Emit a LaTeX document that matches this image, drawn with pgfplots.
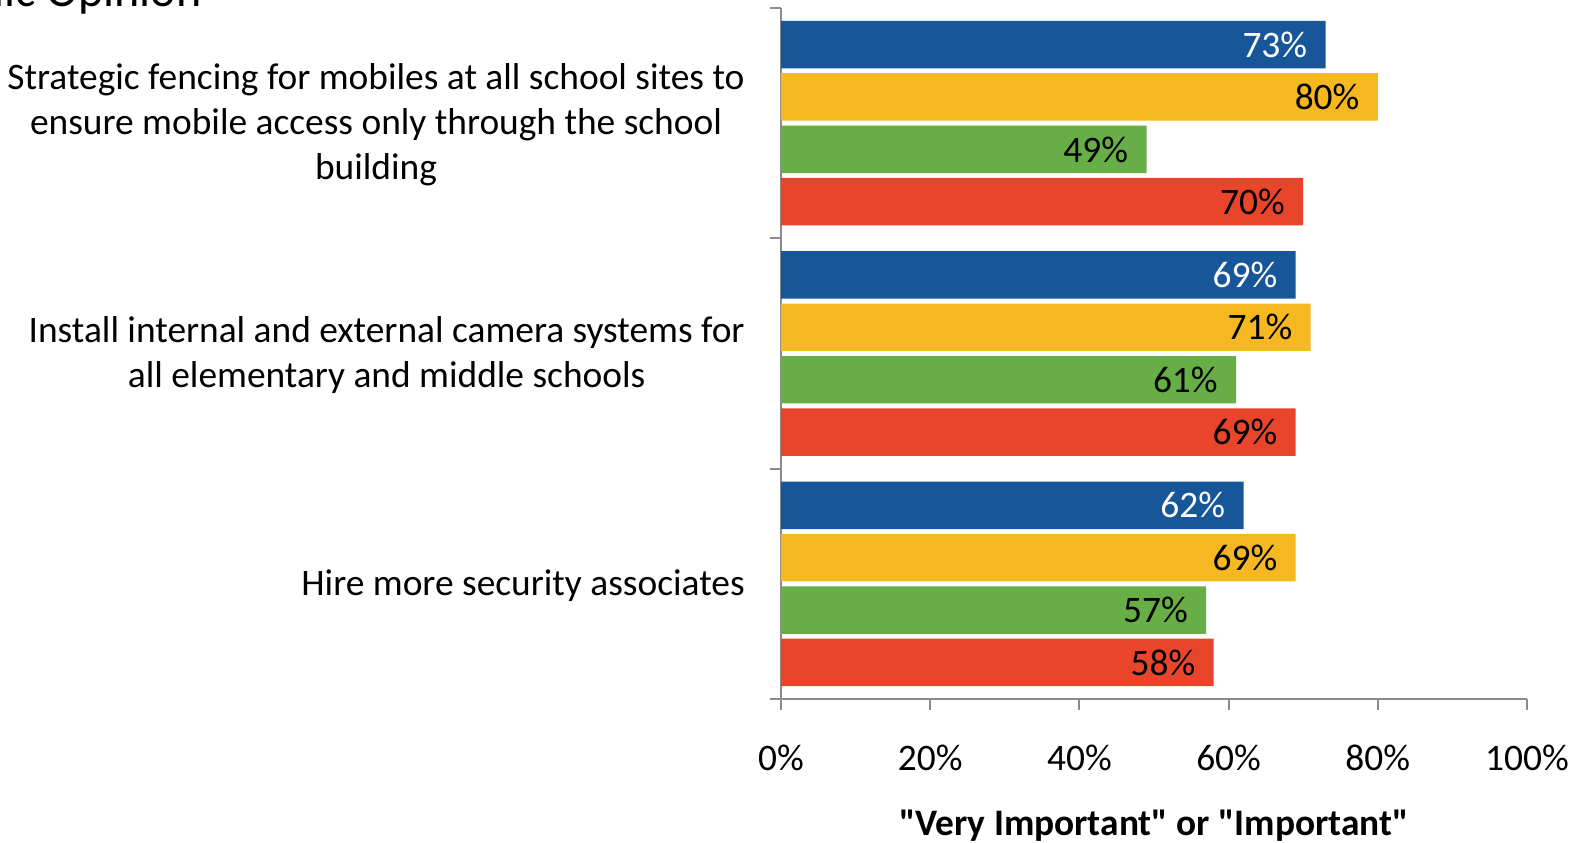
\documentclass[border=0pt]{standalone}
\usepackage{pgfplots}
\pgfplotsset{compat=1.18}
\usepackage{fontspec}
\setmainfont{Carlito}
\newfontfamily\carlitoplain{Carlito}
\definecolor{cblue}{RGB}{23,87,153}
\definecolor{cyellow}{RGB}{245,184,32}
\definecolor{cgreen}{RGB}{103,174,71}
\definecolor{cred}{RGB}{232,69,42}
\definecolor{axgray}{RGB}{140,140,140}
\begin{document}
\fontsize{18.7pt}{22.5pt}\selectfont
\begin{tikzpicture}
\useasboundingbox (0,0) rectangle (790pt,421pt);
\node[anchor=base east, font=\fontsize{24pt}{28pt}\selectfont, inner sep=0pt] at (101pt,417.5pt) {Public Opinion};
\begin{axis}[
  at={(390.5pt,71.5pt)}, anchor=south west,
  scale only axis, width=373pt, height=345.5pt,
  xbar, xmin=0, xmax=100, ymin=-0.5, ymax=2.5,
  bar width=0.206,
  axis lines*=left,
  axis line style={draw=axgray, line width=1pt},
  tick style={draw=axgray, line width=1pt},
  tick align=outside, major tick length=5.5pt,
  xtick={0,20,40,60,80,100},
  xticklabel={\pgfmathprintnumber{\tick}\%},
  /pgf/number format/assume math mode=true,
  xticklabel style={anchor=base, inner sep=0pt, yshift=-30pt},
  ytick={-0.5,0.5,1.5,2.5}, yticklabels={},
  extra y ticks={0,1,2},
  extra y tick labels={{Hire more security associates},{Install internal and external camera systems for\\all elementary and middle schools},{Strategic fencing for mobiles at all school sites to\\ensure mobile access only through the school\\building}},
  extra y tick style={major tick length=0pt, tick style={draw=none}},
  yticklabel style={inner sep=0pt, align=center, xshift=-18pt, yshift=-1pt},
  tick label style={font=\fontsize{18.7pt}{22.5pt}\selectfont},
  xlabel={"Very Important" or "Important"},
  xlabel style={at={(axis description cs:0.5,0)}, anchor=base, inner sep=0pt, yshift=-68pt, font=\carlitoplain\bfseries\fontsize{18.7pt}{22pt}\selectfont},
  point meta=x,
  nodes near coords={\pgfmathprintnumber{\pgfplotspointmeta}\%},
  every node near coord/.append style={anchor=east, inner sep=0pt, xshift=-9pt, font=\fontsize{18.7pt}{22.5pt}\selectfont},
]
\addplot[fill=cblue, draw=none, bar shift=0.341, every node near coord/.append style={text=white}] coordinates {(62,0) (69,1) (73,2)};
\addplot[fill=cyellow, draw=none, bar shift=0.114, every node near coord/.append style={text=black}] coordinates {(69,0) (71,1) (80,2)};
\addplot[fill=cgreen, draw=none, bar shift=-0.114, every node near coord/.append style={text=black}] coordinates {(57,0) (61,1) (49,2)};
\addplot[fill=cred, draw=none, bar shift=-0.341, every node near coord/.append style={text=black}] coordinates {(58,0) (69,1) (70,2)};
\end{axis}
\end{tikzpicture}
\end{document}
